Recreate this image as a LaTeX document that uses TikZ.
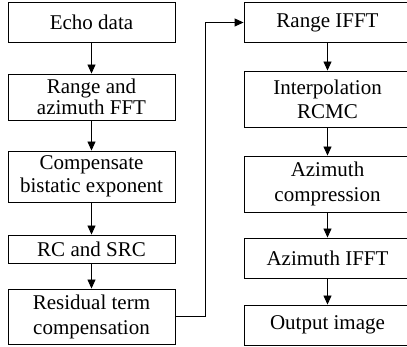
\documentclass[tikz,border=0pt]{standalone}
\usepackage{fontspec}
\setmainfont{Liberation Serif}
\usetikzlibrary{arrows.meta}
\begin{document}
\begin{tikzpicture}[x=1pt,y=-1pt,
  stepbox/.style={draw,line width=0.9pt,inner sep=0pt,align=center,
    font=\fontsize{21}{24}\selectfont},
  lbox/.style={stepbox,minimum width=167pt},
  rbox/.style={stepbox,minimum width=167pt},
  flow/.style={line width=0.9pt,-{Triangle[length=9pt,width=8pt]}}]
\useasboundingbox (0,0) rectangle (407,347);
% left column
\node[lbox,minimum height=40pt] (l1) at (91.5,22) {Echo data};
\node[lbox,minimum height=46pt,font=\fontsize{21}{21}\selectfont] (l2) at (91.5,97) {Range and\\azimuth FFT};
\node[lbox,minimum height=51pt,font=\fontsize{21}{23}\selectfont] (l3) at (91.5,176.5) {Compensate\\bistatic exponent};
\node[lbox,minimum height=28pt] (l4) at (91.5,249) {RC and SRC};
\node[lbox,minimum height=55pt,font=\fontsize{21}{25}\selectfont] (l5) at (91.5,316.5) {Residual term\\compensation};
% right column
\node[rbox,minimum height=40pt] (r1) at (327.5,22.5) {Range IFFT};
\node[rbox,minimum height=56pt] (r2) at (327.5,99) {Interpolation\\RCMC};
\node[rbox,minimum height=56pt,font=\fontsize{21}{25}\selectfont] (r3) at (327.5,184) {Azimuth\\compression};
\node[rbox,minimum height=40pt] (r4) at (327.5,258) {Azimuth IFFT};
\node[rbox,minimum height=40pt] (r5) at (327.5,325) {Output image};
% connectors
\draw[flow] (l1) -- (l2);
\draw[flow] (l2) -- (l3);
\draw[flow] (l3) -- (l4);
\draw[flow] (l4) -- (l5);
\draw[flow] (r1) -- (r2);
\draw[flow] (r2) -- (r3);
\draw[flow] (r3) -- (r4);
\draw[flow] (r4) -- (r5);
\coordinate (xc) at (205.5,0);
\draw[flow] (l5.east) -- (l5.east -| xc) |- (r1.west);
\end{tikzpicture}
\end{document}
